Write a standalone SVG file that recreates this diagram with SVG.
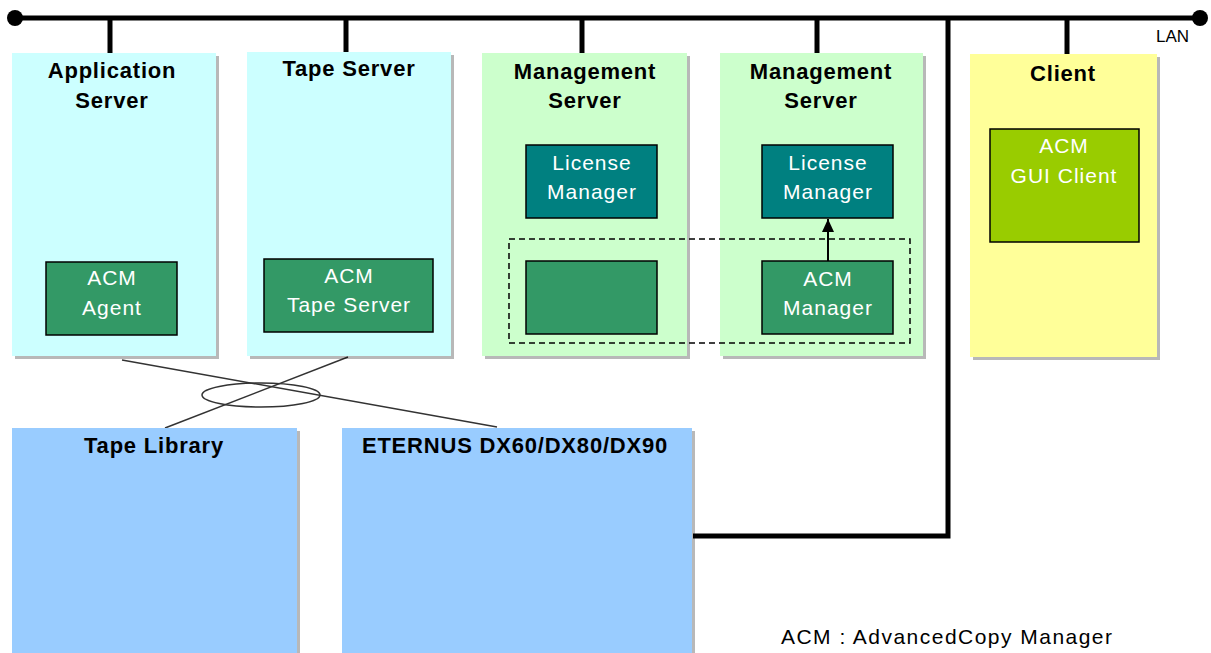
<svg xmlns="http://www.w3.org/2000/svg" width="1211" height="653" viewBox="0 0 1211 653">
<style>
.title{font-family:"Liberation Sans",Arial,sans-serif;font-weight:bold;font-size:22px;letter-spacing:0.8px;fill:#000;text-anchor:middle}
.inner{font-family:"Liberation Sans",Arial,sans-serif;font-size:21px;letter-spacing:1px;fill:#fff;text-anchor:middle}
.note{font-family:"Liberation Sans",Arial,sans-serif;font-size:21px;fill:#000}
.shadow{fill:#000;opacity:0.28}
.cyan{fill:#CCFFFF}
.lgreen{fill:#CCFFCC}
.yellow{fill:#FFFF99}
.blue{fill:#99CCFF}
.comp{stroke:#000;stroke-width:1.5}
.lan{stroke:#000;stroke-width:5;fill:none}
.san{stroke:#333;stroke-width:1.5;fill:none}
</style>
<defs>
<marker id="arr" markerWidth="13" markerHeight="12" refX="13" refY="6" orient="auto" markerUnits="userSpaceOnUse" viewBox="0 0 13 12">
<path d="M0,0 L13,6 L0,12 Z" fill="#000"/>
</marker>
</defs>
<rect width="1211" height="653" fill="#fff"/>

<g id="lan-connectors">
<line class="lan" x1="15" y1="18" x2="1200" y2="18"/>
<circle cx="15" cy="18" r="8" fill="#000"/>
<circle cx="1200" cy="18" r="8" fill="#000"/>
<line class="lan" x1="110" y1="18" x2="110" y2="53" stroke-width="4"/>
<line class="lan" x1="346" y1="18" x2="346" y2="52" stroke-width="4"/>
<line class="lan" x1="582" y1="18" x2="582" y2="53" stroke-width="4"/>
<line class="lan" x1="817" y1="18" x2="817" y2="53" stroke-width="4"/>
<line class="lan" x1="1067" y1="18" x2="1067" y2="54" stroke-width="4"/>
<polyline class="lan" points="948,18 948,536 693,536" stroke-width="4"/>
<line class="san" x1="122" y1="360" x2="497" y2="427"/>
<line class="san" x1="348" y1="357" x2="165" y2="428"/>
<ellipse class="san" cx="261" cy="395" rx="59" ry="12"/>
<text x="1156" y="42" font-family="Liberation Sans,Arial,sans-serif" font-size="17" fill="#000">LAN</text>
</g>

<g id="app-server">
<rect class="shadow" x="15" y="56" width="204" height="303"/>
<rect class="cyan" x="12" y="53" width="204" height="303"/>
<text class="title" x="112" y="78">Application</text>
<text class="title" x="112" y="108">Server</text>
</g>
<g id="acm-agent">
<rect class="comp" x="46" y="262" width="131" height="73" fill="#339966"/>
<text class="inner" x="112" y="285">ACM</text>
<text class="inner" x="112" y="315">Agent</text>
</g>

<g id="tape-server">
<rect class="shadow" x="250" y="55" width="204" height="304"/>
<rect class="cyan" x="247" y="52" width="204" height="304"/>
<text class="title" x="349" y="76">Tape Server</text>
</g>
<g id="acm-tape-server">
<rect class="comp" x="264" y="259" width="169" height="73" fill="#339966"/>
<text class="inner" x="349" y="283">ACM</text>
<text class="inner" x="349" y="312">Tape Server</text>
</g>

<g id="mgmt-server-1">
<rect class="shadow" x="485" y="56" width="205" height="303"/>
<rect class="lgreen" x="482" y="53" width="205" height="303"/>
<text class="title" x="585" y="79">Management</text>
<text class="title" x="585" y="108">Server</text>
</g>
<g id="license-manager-1">
<rect class="comp" x="526" y="145" width="131" height="73" fill="#008080"/>
<text class="inner" x="592" y="170">License</text>
<text class="inner" x="592" y="199">Manager</text>
</g>
<g id="empty-component">
<rect class="comp" x="526" y="261" width="131" height="73" fill="#339966"/>
</g>

<g id="mgmt-server-2">
<rect class="shadow" x="723" y="56" width="203" height="303"/>
<rect class="lgreen" x="720" y="53" width="203" height="303"/>
<text class="title" x="821" y="79">Management</text>
<text class="title" x="821" y="108">Server</text>
</g>
<g id="license-manager-2">
<rect class="comp" x="762" y="145" width="131" height="73" fill="#008080"/>
<text class="inner" x="828" y="170">License</text>
<text class="inner" x="828" y="199">Manager</text>
</g>
<g id="acm-manager">
<rect class="comp" x="762" y="261" width="131" height="73" fill="#339966"/>
<text class="inner" x="828" y="286">ACM</text>
<text class="inner" x="828" y="315">Manager</text>
</g>

<g id="client">
<rect class="shadow" x="973" y="57" width="187" height="303"/>
<rect class="yellow" x="970" y="54" width="187" height="303"/>
<text class="title" x="1063" y="81">Client</text>
</g>
<g id="acm-gui-client">
<rect class="comp" x="990" y="129" width="149" height="113" fill="#99CC00"/>
<text class="inner" x="1064" y="153">ACM</text>
<text class="inner" x="1064" y="183">GUI Client</text>
</g>

<g id="tape-library">
<rect class="shadow" x="15" y="431" width="285" height="230"/>
<rect class="blue" x="12" y="428" width="285" height="230"/>
<text class="title" x="154" y="453">Tape Library</text>
</g>

<g id="eternus">
<rect class="shadow" x="345" y="431" width="350" height="230"/>
<rect class="blue" x="342" y="428" width="350" height="230"/>
<text class="title" x="515" y="453">ETERNUS DX60/DX80/DX90</text>
</g>

<g id="inner-connectors">
<line x1="828" y1="261" x2="828" y2="219" stroke="#000" stroke-width="2" marker-end="url(#arr)"/>
<rect x="509" y="239" width="401" height="104" fill="none" stroke="#000" stroke-width="1.5" stroke-dasharray="6,4"/>
</g>

<text class="note" x="781" y="644" textLength="331" lengthAdjust="spacing">ACM : AdvancedCopy Manager</text>
</svg>
